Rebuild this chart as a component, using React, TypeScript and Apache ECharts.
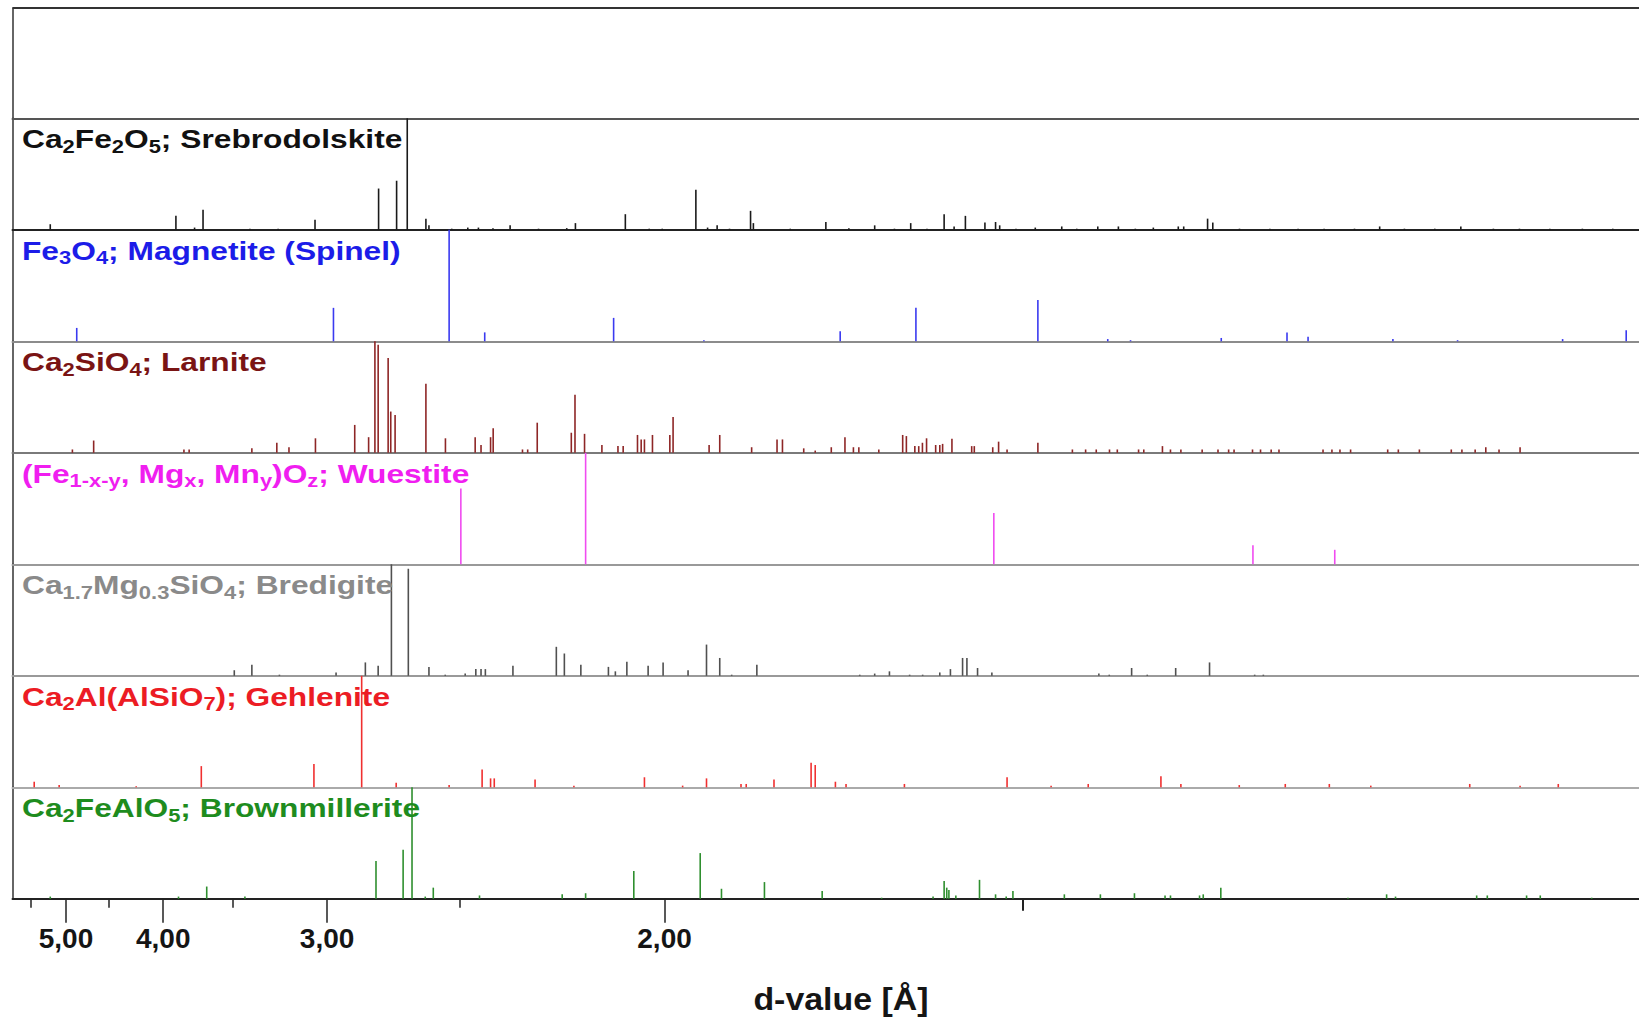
import React, { useEffect, useRef } from "react";
import * as echarts from "echarts";

// ---------- data ----------
const WAVELENGTH = 1.5406; // Cu K-alpha1 [Å]
const TWO_THETA_MIN = 15.26;
const TWO_THETA_MAX = 90.21;

const dMajorTicks = [5, 4, 3, 2];
const dLabelTicks = [5, 4, 3, 2];
const dMinorTicks = [5.5, 4.5, 3.5, 2.5];
const dMediumTicks = [1.5];
const axisTitle = "d-value [Å]";

type Peak = [number, number]; // [2-theta (deg), relative intensity %]

const srebrodolskitePeaks: Peak[] = [
  [17.0, 5], [22.79, 12.5], [23.65, 2], [24.04, 18], [26.2, 1], [27.5, 1], [29.2, 9], [32.13, 37], [32.96, 44],
  [33.45, 100], [34.31, 10], [34.45, 4], [35.5, 1], [36.24, 2], [36.73, 2], [37.4, 1.5], [38.19, 4], [39.5, 1],
  [40.8, 1.5], [41.2, 6], [43.5, 14], [44.6, 1], [45.2, 1], [46.75, 36], [47.29, 2], [47.73, 4], [48.3, 1],
  [49.27, 17], [49.4, 6], [51.1, 1], [52.74, 7], [53.8, 1.5], [54.99, 4], [55.9, 1], [56.65, 6], [57.4, 1],
  [58.19, 14], [58.65, 3], [59.17, 12.5], [60.07, 6.5], [60.56, 7], [60.75, 4], [61.5, 1], [62.39, 2],
  [63.61, 3], [64.3, 1], [65.27, 3], [66.22, 3], [67.0, 1], [67.83, 2], [68.98, 3], [69.23, 3], [70.33, 10],
  [70.57, 6.5], [71.8, 1], [73.2, 1], [74.5, 1], [75.7, 1], [77.1, 1], [78.26, 3], [79.4, 1], [80.8, 1],
  [82.0, 3], [83.5, 1], [84.7, 1], [86.1, 1], [87.6, 1], [89.0, 1],
];

const magnetitePeaks: Peak[] = [
  [18.22, 12], [30.05, 30], [35.38, 100], [37.02, 8], [42.96, 21], [47.12, 1], [53.4, 9], [56.89, 30],
  [62.51, 37], [65.73, 2], [66.78, 1], [70.96, 3], [73.99, 8], [74.96, 4], [78.87, 2], [81.85, 1],
  [86.69, 2], [89.62, 10],
];

const larnitePeaks: Peak[] = [
  [18.02, 3], [19.0, 11], [23.16, 3], [23.4, 3], [26.29, 4], [27.44, 9], [28.0, 5], [29.22, 13], [31.03, 25],
  [31.67, 14], [31.96, 100], [32.11, 97], [32.57, 85], [32.69, 37], [32.89, 34], [34.31, 62], [35.21, 13],
  [36.58, 14], [36.85, 7], [37.29, 14], [37.41, 22], [38.76, 3], [39.0, 3], [39.44, 27], [41.01, 18],
  [41.18, 52], [41.62, 17], [42.42, 7], [43.16, 6], [43.4, 6], [44.06, 16], [44.23, 12], [44.38, 12],
  [44.75, 16], [45.55, 16], [45.7, 32], [47.36, 7], [47.85, 16], [49.32, 5], [50.49, 12], [50.74, 12],
  [51.72, 4], [52.25, 2], [52.99, 5], [53.62, 14], [54.01, 5], [54.26, 5], [55.18, 3], [56.28, 16],
  [56.45, 15], [56.84, 6], [57.02, 6], [57.19, 9], [57.38, 13], [57.8, 7], [57.99, 7], [58.12, 8],
  [58.55, 12.5], [59.46, 6], [59.58, 6], [60.43, 5], [60.7, 10], [61.09, 3], [62.51, 9], [64.1, 3],
  [64.71, 3], [65.2, 3], [65.81, 3], [66.17, 3], [67.15, 3], [67.39, 3], [68.25, 6], [68.62, 3], [69.1, 3],
  [70.08, 3], [70.81, 3], [71.3, 3], [71.55, 3], [72.4, 3], [72.77, 3], [73.26, 3], [73.62, 3], [75.65, 3],
  [76.06, 3], [76.43, 3], [76.92, 3], [78.63, 3], [79.12, 3], [80.09, 3], [81.56, 3], [82.05, 3],
  [82.66, 3], [83.15, 5], [83.76, 3], [84.73, 5],
];

const wuestitePeaks: Peak[] = [
  [35.92, 68], [41.67, 100], [60.48, 46], [72.42, 17], [76.19, 13],
];

const bredigitePeaks: Peak[] = [
  [25.48, 5], [26.29, 10], [27.56, 1], [30.17, 3], [31.52, 12], [32.11, 9], [32.72, 100], [33.5, 96],
  [34.45, 8], [35.2, 1], [36.12, 2], [36.61, 6], [36.85, 6], [37.05, 6], [38.32, 9], [40.32, 26],
  [40.69, 20], [41.45, 10], [42.72, 8], [43.04, 4], [43.57, 12.5], [44.55, 9], [45.24, 12], [46.39, 5],
  [47.24, 28], [47.85, 16], [48.4, 1], [49.56, 10], [54.3, 1], [54.99, 2], [55.67, 4], [56.6, 1],
  [57.2, 1], [57.99, 3], [58.48, 6], [59.04, 16], [59.24, 16], [59.73, 7], [60.39, 3], [65.32, 2],
  [65.8, 1], [66.83, 7], [67.55, 1], [68.86, 7], [70.42, 12], [72.5, 1], [72.9, 1],
];

const gehlenitePeaks: Peak[] = [
  [16.26, 5], [17.41, 2], [20.96, 1], [23.96, 19], [29.15, 21], [31.35, 100], [32.94, 4], [35.38, 2],
  [36.9, 16], [37.29, 8], [37.46, 8], [39.34, 7], [41.13, 1.5], [44.38, 9], [46.14, 1.5], [47.24, 8],
  [48.83, 3], [49.07, 3], [50.35, 7], [52.06, 22], [52.25, 20], [53.18, 5], [53.67, 3], [56.36, 3],
  [61.09, 9], [63.12, 1.5], [64.83, 3], [68.18, 10], [69.1, 3], [71.79, 2], [73.91, 3], [75.94, 3],
  [77.85, 1.5], [82.41, 3], [84.73, 1.5], [86.49, 3],
];

const brownmilleritePeaks: Peak[] = [
  [17.0, 2], [22.91, 2], [24.21, 11], [25.97, 2], [32.01, 34], [33.26, 44], [33.67, 100], [34.28, 2],
  [34.65, 10], [36.78, 3], [40.59, 4], [41.67, 5], [43.89, 25], [46.95, 41], [47.93, 9], [49.91, 15],
  [52.57, 7], [55.31, 1], [57.68, 2], [58.19, 16], [58.31, 10], [58.41, 8], [58.73, 3], [59.82, 17],
  [60.56, 4], [61.05, 2], [61.36, 7], [63.73, 4], [65.39, 4], [66.96, 5], [68.37, 3], [68.62, 3],
  [69.96, 3], [70.13, 4], [70.94, 10], [76.8, 1], [78.58, 4], [78.99, 2], [82.73, 3], [83.22, 3],
  [85.03, 3], [85.66, 3], [88.03, 1],
];

// label parts: [text, isSubscript]
type Part = [string, number];
const srebrodolskiteLabel: Part[] = [["Ca", 0], ["2", 1], ["Fe", 0], ["2", 1], ["O", 0], ["5", 1], ["; Srebrodolskite", 0]];
const magnetiteLabel: Part[] = [["Fe", 0], ["3", 1], ["O", 0], ["4", 1], ["; Magnetite (Spinel)", 0]];
const larniteLabel: Part[] = [["Ca", 0], ["2", 1], ["SiO", 0], ["4", 1], ["; Larnite", 0]];
const wuestiteLabel: Part[] = [["(Fe", 0], ["1-x-y", 1], [", Mg", 0], ["x", 1], [", Mn", 0], ["y", 1], [")O", 0], ["z", 1], ["; Wuestite", 0]];
const bredigiteLabel: Part[] = [["Ca", 0], ["1.7", 1], ["Mg", 0], ["0.3", 1], ["SiO", 0], ["4", 1], ["; Bredigite", 0]];
const gehleniteLabel: Part[] = [["Ca", 0], ["2", 1], ["Al(AlSiO", 0], ["7", 1], ["); Gehlenite", 0]];
const brownmilleriteLabel: Part[] = [["Ca", 0], ["2", 1], ["FeAlO", 0], ["5", 1], ["; Brownmillerite", 0]];

const phases = [
  { peaks: srebrodolskitePeaks, label: srebrodolskiteLabel, text: "#111111", bar: "#1a1a1a" },
  { peaks: magnetitePeaks, label: magnetiteLabel, text: "#1c1ce8", bar: "#3a3af0" },
  { peaks: larnitePeaks, label: larniteLabel, text: "#7a1414", bar: "#8e2626" },
  { peaks: wuestitePeaks, label: wuestiteLabel, text: "#f01ef0", bar: "#f04cf0" },
  { peaks: bredigitePeaks, label: bredigiteLabel, text: "#8a8a8a", bar: "#505050" },
  { peaks: gehlenitePeaks, label: gehleniteLabel, text: "#ec1c24", bar: "#f03030" },
  { peaks: brownmilleritePeaks, label: brownmilleriteLabel, text: "#1e8c1e", bar: "#2f8f2f" },
];

// ---------- layout ----------
const FONT = "'Liberation Sans', Arial, Helvetica, sans-serif";
const LEFT = 12.5;
const WIDTH = 1626.5;
const TOP0 = 8;
const FIRST_PANEL_TOP = 118.3;
const PANEL_H = 111.5;
const baseLineColors = ["#555555", "#222222", "#8c8c8c", "#7a7a7a", "#999999", "#999999", "#aaaaaa", "#222222"];

const toTwoTheta = (d: number) => (2 * Math.asin(WAVELENGTH / (2 * d)) * 180) / Math.PI;
const toD = (tt: number) => WAVELENGTH / (2 * Math.sin((tt * Math.PI) / 360));

function tickOnlyAxis(values: number[], length: number, width: number) {
  return {
    type: "value",
    gridIndex: 7,
    min: TWO_THETA_MIN,
    max: TWO_THETA_MAX,
    position: "bottom",
    axisLine: { show: false },
    axisTick: { show: true, length, customValues: values.map(toTwoTheta), lineStyle: { color: "#222", width } },
    axisLabel: { show: false },
    splitLine: { show: false },
  };
}

function buildOption() {
  const grids: any[] = [];
  const xAxes: any[] = [];
  const yAxes: any[] = [];
  const series: any[] = [];
  const graphics: any[] = [];

  for (let i = 0; i < 8; i++) {
    const top = i === 0 ? TOP0 : FIRST_PANEL_TOP + PANEL_H * (i - 1);
    const height = i === 0 ? FIRST_PANEL_TOP - TOP0 : PANEL_H;
    grids.push({ left: LEFT, top, width: WIDTH, height, outerBoundsMode: "none", containLabel: false });
    const isBottom = i === 7;
    xAxes.push({
      type: "value",
      gridIndex: i,
      min: TWO_THETA_MIN,
      max: TWO_THETA_MAX,
      position: "bottom",
      axisLine: { show: true, onZero: false, lineStyle: { color: baseLineColors[i], width: 2 } },
      axisTick: isBottom
        ? { show: true, inside: false, length: 24, customValues: dMajorTicks.map(toTwoTheta), lineStyle: { color: "#222", width: 1.5 } }
        : { show: false },
      axisLabel: isBottom
        ? {
            show: true,
            customValues: dLabelTicks.map(toTwoTheta),
            formatter: (v: number) => toD(v).toFixed(2).replace(".", ","),
            fontSize: 28,
            fontWeight: "bold",
            fontFamily: FONT,
            color: "#151515",
            margin: 26,
          }
        : { show: false },
      splitLine: { show: false },
    });
    yAxes.push({
      type: "value",
      gridIndex: i,
      min: 0,
      max: 100,
      axisLine: { show: true, onZero: false, lineStyle: { color: "#333", width: 1.5 } },
      axisTick: { show: false },
      axisLabel: { show: false },
      splitLine: { show: false },
    });
  }
  // minor and medium ticks on bottom axis
  xAxes.push(tickOnlyAxis(dMinorTicks, 9, 1.5));
  xAxes.push(tickOnlyAxis(dMediumTicks, 12, 2));

  phases.forEach((p, k) => {
    const gi = k + 1;
    series.push({
      type: "bar",
      xAxisIndex: gi,
      yAxisIndex: gi,
      data: p.peaks,
      barWidth: 1.6,
      itemStyle: { color: p.bar },
      silent: true,
      animation: false,
    });
    const panelTop = FIRST_PANEL_TOP + PANEL_H * k;
    const rich = p.label.map(([t, s]) => `{${s ? "s" : "m"}|${t}}`).join("");
    graphics.push({
      type: "text",
      x: 22,
      y: panelTop + 5,
      scaleX: 1.22,
      scaleY: 1,
      silent: true,
      z: 100,
      style: {
        text: rich,
        align: "left",
        textAlign: "left",
        verticalAlign: "top",
        textVerticalAlign: "top",
        fill: p.text,
        rich: {
          m: { fontSize: 26, fontWeight: "bold", fontFamily: FONT, fill: p.text, lineHeight: 32 },
          s: { fontSize: 18, fontWeight: "bold", fontFamily: FONT, fill: p.text, lineHeight: 32, verticalAlign: "bottom" },
        },
      },
    });
  });

  graphics.push({
    type: "line",
    silent: true,
    shape: { x1: LEFT, y1: TOP0, x2: LEFT + WIDTH, y2: TOP0 },
    style: { stroke: "#333", lineWidth: 2 },
  });
  graphics.push({
    type: "text",
    x: 841,
    y: 982,
    scaleX: 1.06,
    silent: true,
    style: {
      text: axisTitle,
      align: "center",
      textAlign: "center",
      verticalAlign: "top",
      textVerticalAlign: "top",
      fontSize: 32,
      lineHeight: 34,
      fontWeight: "bold",
      fontFamily: FONT,
      fill: "#151515",
    },
  });

  return {
    animation: false,
    backgroundColor: "#ffffff",
    grid: grids,
    xAxis: xAxes,
    yAxis: yAxes,
    series,
    graphic: { elements: graphics },
  };
}

export default function App() {
  const ref = useRef<HTMLDivElement>(null);
  useEffect(() => {
    if (!ref.current) return;
    const chart = echarts.init(ref.current, null, { renderer: "svg" });
    chart.setOption(buildOption() as any);
    return () => chart.dispose();
  }, []);
  return (
    <div
      ref={ref}
      style={{ position: "absolute", left: 0, top: 0, width: 1639, height: 1018, background: "#fff" }}
    />
  );
}
